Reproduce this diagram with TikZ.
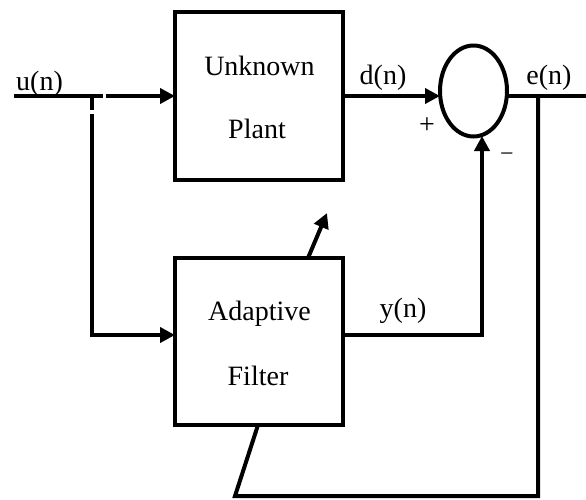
\documentclass[tikz,border=0pt]{standalone}
\usepackage{fontspec}
\setmainfont{Liberation Serif}
\usetikzlibrary{arrows.meta,shapes.geometric}
\begin{document}
\begin{tikzpicture}[x=1pt,y=-1pt,
  every node/.style={font=\fontsize{28}{34}\selectfont},
  blockbox/.style={draw,line width=4pt,rectangle,inner sep=0pt,outer sep=0pt,minimum width=168pt},
  sumnode/.style={draw,line width=4pt,ellipse,inner sep=0pt,outer sep=0pt,minimum width=67pt,minimum height=91pt},
  wire/.style={line width=4pt},
  arrw/.style={line width=4pt,-{Triangle[length=15pt,width=15pt]}},
  lbl/.style={inner sep=0pt,anchor=base}]
\useasboundingbox (0,0) rectangle (586,499);
% blocks
\node[blockbox,minimum height=168pt] (plant) at (259,96) {};
\node[blockbox,minimum height=167pt] (filter) at (259,341.5) {};
\node[sumnode] (sum) at (473.5,91) {};
% block texts
\node[lbl] (t1) at (259.5,75) {Unknown};
\node[lbl] (t2) at (257,138) {Plant};
\node[lbl] (t3) at (259.5,320) {Adaptive};
\node[lbl] (t4) at (258,385) {Filter};
% signal labels
\node[lbl,anchor=base west] (lu) at (16,90) {u(n)};
\node[lbl] (ld) at (383,84) {d(n)};
\node[lbl] (le) at (549,84) {e(n)};
\node[lbl] (ly) at (403,317) {y(n)};
\node[inner sep=0pt] (lp) at (427,126) {\fontsize{28}{30}\selectfont +};
\node[inner sep=0pt] (lm) at (507,157) {\fontsize{24}{26}\selectfont −};
% coordinates
\coordinate (uin) at (14,96);
\coordinate (ugap1) at (103,96);
\coordinate (ugap2) at (106,96);
\coordinate (br) at (92,96);
\coordinate (bgap1) at (92,110);
\coordinate (bgap2) at (92,114);
\coordinate (bdown) at (92,335);
\coordinate (eout) at (586,96);
\coordinate (ej) at (538,96);
\coordinate (fbc) at (538,496);
\coordinate (fbl) at (235,496);
\coordinate (ycorner) at (482,335);
\coordinate (ytip) at (482,136);
\coordinate (adstart) at (308,258);
\coordinate (adtip) at (327,213);
% input
\draw[wire] (uin) -- (ugap1);
\draw[arrw] (ugap2) -- (plant.west);
\draw[wire] ([yshift=-2pt]br) -- (bgap1);
\draw[arrw] (bgap2) -- (bdown) -- (filter.west |- bdown);
% plant to sum
\draw[arrw] (plant.east) -- (sum.west |- plant.east);
% sum output
\draw[wire] (sum.east |- eout) -- (eout);
% feedback
\draw[wire,line join=miter] (ej) -- (fbc) -- (fbl) -- (filter.south -| 258,0);
% filter output
\draw[arrw] (filter.east |- ycorner) -- (ycorner) -- (ytip);
% adaptation arrow
\draw[arrw] (adstart) -- (adtip);
\end{tikzpicture}
\end{document}
